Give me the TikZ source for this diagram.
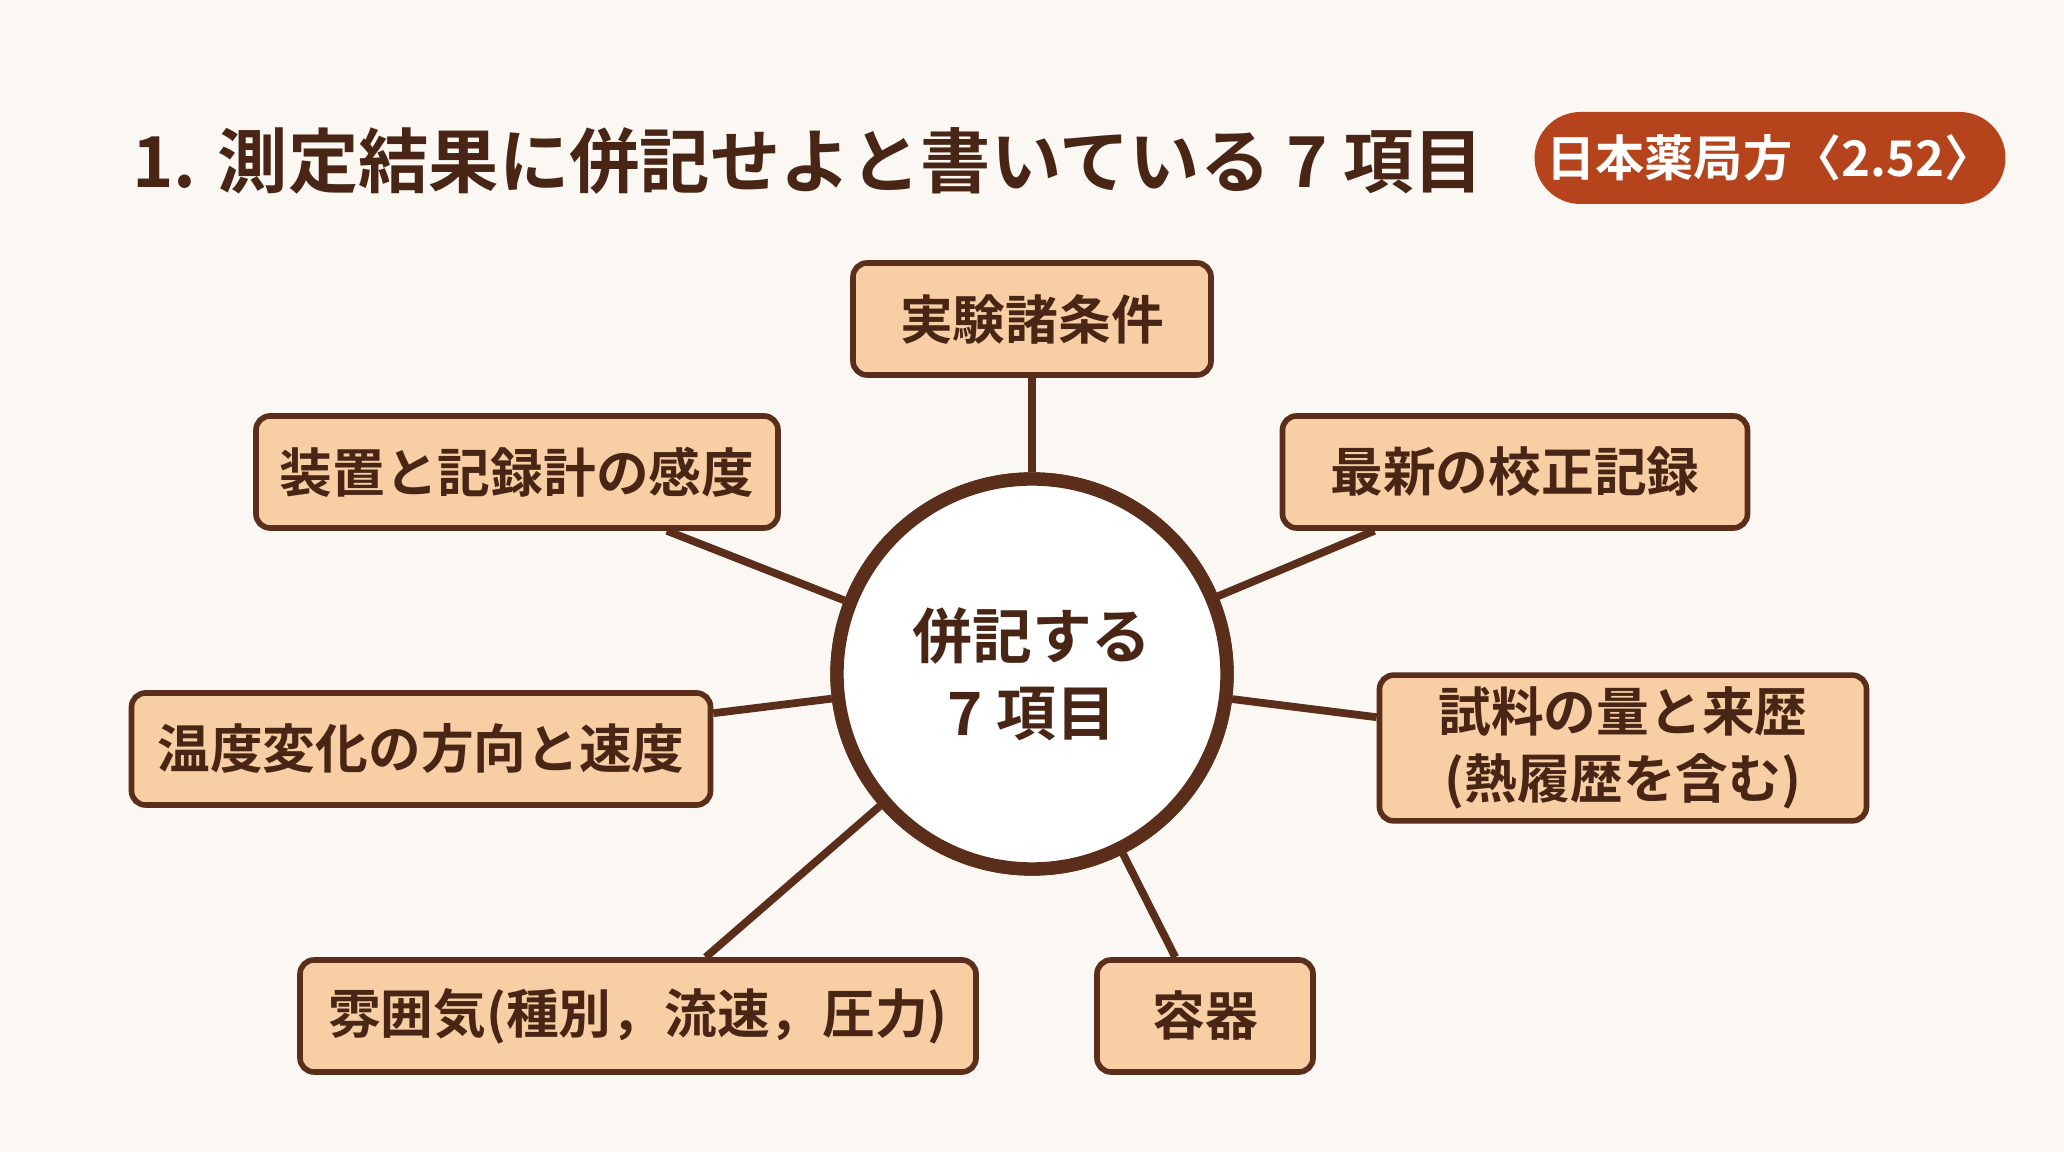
\documentclass[tikz,border=0pt]{standalone}
\usepackage{fontspec}
\setmainfont{Noto Sans CJK JP}[BoldFont={* Bold}]
\usetikzlibrary{calc}

\definecolor{fundo}{HTML}{FBF7F2}
\definecolor{marrom}{HTML}{5A2E1A}
\definecolor{caixa}{HTML}{F8CFA4}
\definecolor{selo}{HTML}{B5441C}

\begin{document}
\begin{tikzpicture}
  %--------------------------------------------
  % Fundo e área do desenho
  %--------------------------------------------
  \fill[fundo] (0,0) rectangle (20.64,11.52);
  \useasboundingbox (0,0) rectangle (20.64,11.52);

  %--------------------------------------------
  % Estilos
  %--------------------------------------------
  \def\szh{1.12cm}   % altura mínima de cada bloco
  \tikzstyle{block} = [
    draw=marrom, fill=caixa, rectangle, line width=1.6pt, rounded corners=4pt,
    minimum height=\szh, font=\fontsize{15}{19}\selectfont\bfseries,
    text=marrom!80!black, align=center
  ]
  \tikzstyle{link} = [draw=marrom, line width=2.2pt]

  %--------------------------------------------
  % Título e selo
  %--------------------------------------------
  \node[anchor=west, text=marrom!80!black, font=\fontsize{20}{24}\selectfont\bfseries]
    (titulo) at (1.2,9.91) {1. 測定結果に併記せよと書いている 7 項目};
  \node[fill=selo, rounded corners=0.46cm, minimum width=4.34cm, minimum height=0.92cm,
    text=white, font=\fontsize{14}{17}\selectfont\bfseries]
    (selo) at (17.70,9.94) {日本薬局方〈2.52〉};

  %--------------------------------------------
  % Círculo central
  %--------------------------------------------
  \node[circle, draw=marrom, fill=white, line width=3.8pt, minimum size=3.9cm,
    align=center, text=marrom!80!black, font=\fontsize{17}{22}\selectfont\bfseries]
    (centro) at (10.32,4.78) {併記する\\7 項目};

  %--------------------------------------------
  % Blocos: nome/posição/largura/texto
  %--------------------------------------------
  \foreach \nome/\pos/\larg/\txt in {
    cond/{(10.32,8.33)}/3.58/実験諸条件,
    sens/{(5.17,6.80)}/5.22/装置と記録計の感度,
    calib/{(15.15,6.80)}/4.65/最新の校正記録,
    temp/{(4.21,4.03)}/5.79/温度変化の方向と速度,
    amostra/{(16.23,4.04)}/4.87/{試料の量と来歴\\(熱履歴を含む)},
    atm/{(6.38,1.36)}/6.76/{雰囲気(種別，流速，圧力)},
    cont/{(12.05,1.36)}/2.16/容器}
  {
    \node[block, minimum width=\larg cm] (\nome) at \pos {\txt};
  }

  %--------------------------------------------
  % Ligações ao centro
  %--------------------------------------------
  \foreach \nome in {cond,sens,calib,temp,amostra,atm,cont}
  {
    \begin{pgfonlayer}{main}
    \end{pgfonlayer}
    \path[link] (centro) -- (\nome);
  }
  % redesenha por cima das linhas
  \node[circle, draw=marrom, fill=white, line width=3.8pt, minimum size=3.9cm,
    align=center, text=marrom!80!black, font=\fontsize{17}{22}\selectfont\bfseries]
    at (centro) {併記する\\7 項目};
\end{tikzpicture}
\end{document}
